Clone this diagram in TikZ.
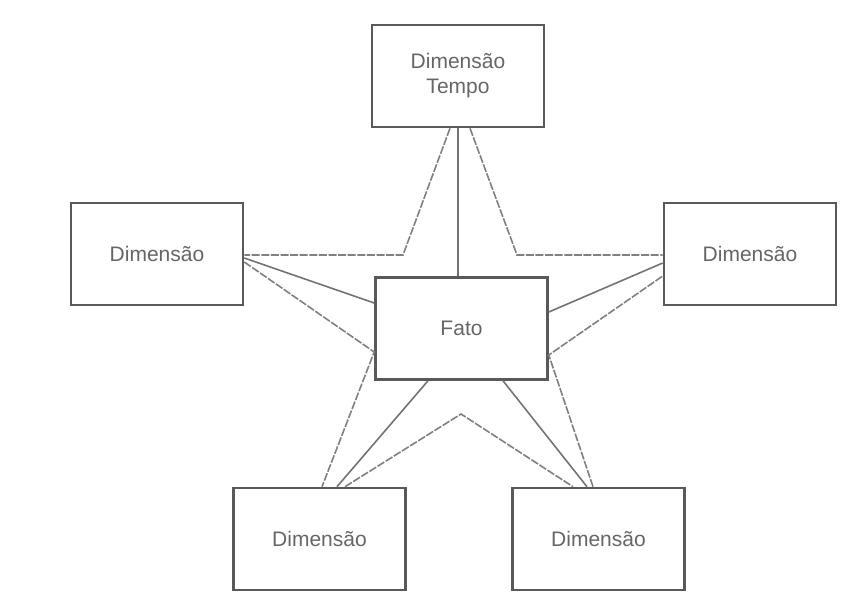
\documentclass[tikz,border=0pt]{standalone}
\usepackage{fontspec}
\setmainfont{Liberation Sans}
\usetikzlibrary{calc}

\begin{document}
\begin{tikzpicture}[
    x=0.5pt, y=-0.5pt,
    dim/.style={rectangle, draw=black!65, line width=1.3pt, fill=white, minimum width=86pt, minimum height=51pt, align=center, text=black!60, font=\fontsize{10.5}{12.5}\selectfont},
    link/.style={draw=black!55, line width=0.8pt},
    star/.style={draw=black!50, line width=0.8pt, dash pattern=on 4pt off 0.8pt}
]
\useasboundingbox (0,0) rectangle (846,595);

% tabela fato e dimensoes
\node[dim] (fato) at (461.5,328.5) {Fato};
\node[dim] (tempo) at (458,76) {Dimens\~ao\\Tempo};
\node[dim] (esq) at (157,254) {Dimens\~ao};
\node[dim] (dir) at (750,254) {Dimens\~ao};
\node[dim] (infesq) at (319.5,539) {Dimens\~ao};
\node[dim] (infdir) at (598.5,539) {Dimens\~ao};

% vertices internos da estrela
\coordinate (vsupesq) at (403,255);
\coordinate (vsupdir) at (517,255);
\coordinate (vesq) at ($(fato.west)+(0,23.5)$);
\coordinate (vdir) at ($(fato.east)+(0,26.5)$);
\coordinate (vinf) at (461,414);

% ligacoes fato - dimensoes
\draw[link] (tempo.south) -- (fato.north -| tempo.south);
\draw[link] ($(esq.east)+(0,4)$) -- ($(fato.west)+(0,-25.5)$);
\draw[link] ($(dir.west)+(0,9)$) -- ($(fato.east)+(0,-16.5)$);
\draw[link] ($(fato.south)+(-33.5,0)$) -- ($(infesq.north)+(17.5,0)$);
\draw[link] ($(fato.south)+(41.5,0)$) -- ($(infdir.north)+(-11.5,0)$);

% contorno da estrela
\draw[star] ($(tempo.south)+(-8,0)$) -- (vsupesq) -- ($(esq.east)+(0,1)$);
\draw[star] ($(tempo.south)+(12,0)$) -- (vsupdir) -- ($(dir.west)+(0,1)$);
\draw[star] ($(esq.east)+(0,8)$) -- (vesq) -- ($(infesq.north)+(2.5,0)$);
\draw[star] ($(infesq.north)+(25.5,0)$) -- (vinf) -- ($(infdir.north)+(-25.5,0)$);
\draw[star] ($(infdir.north)+(-5.5,0)$) -- (vdir) -- ($(dir.west)+(0,22)$);

\end{tikzpicture}
\end{document}
